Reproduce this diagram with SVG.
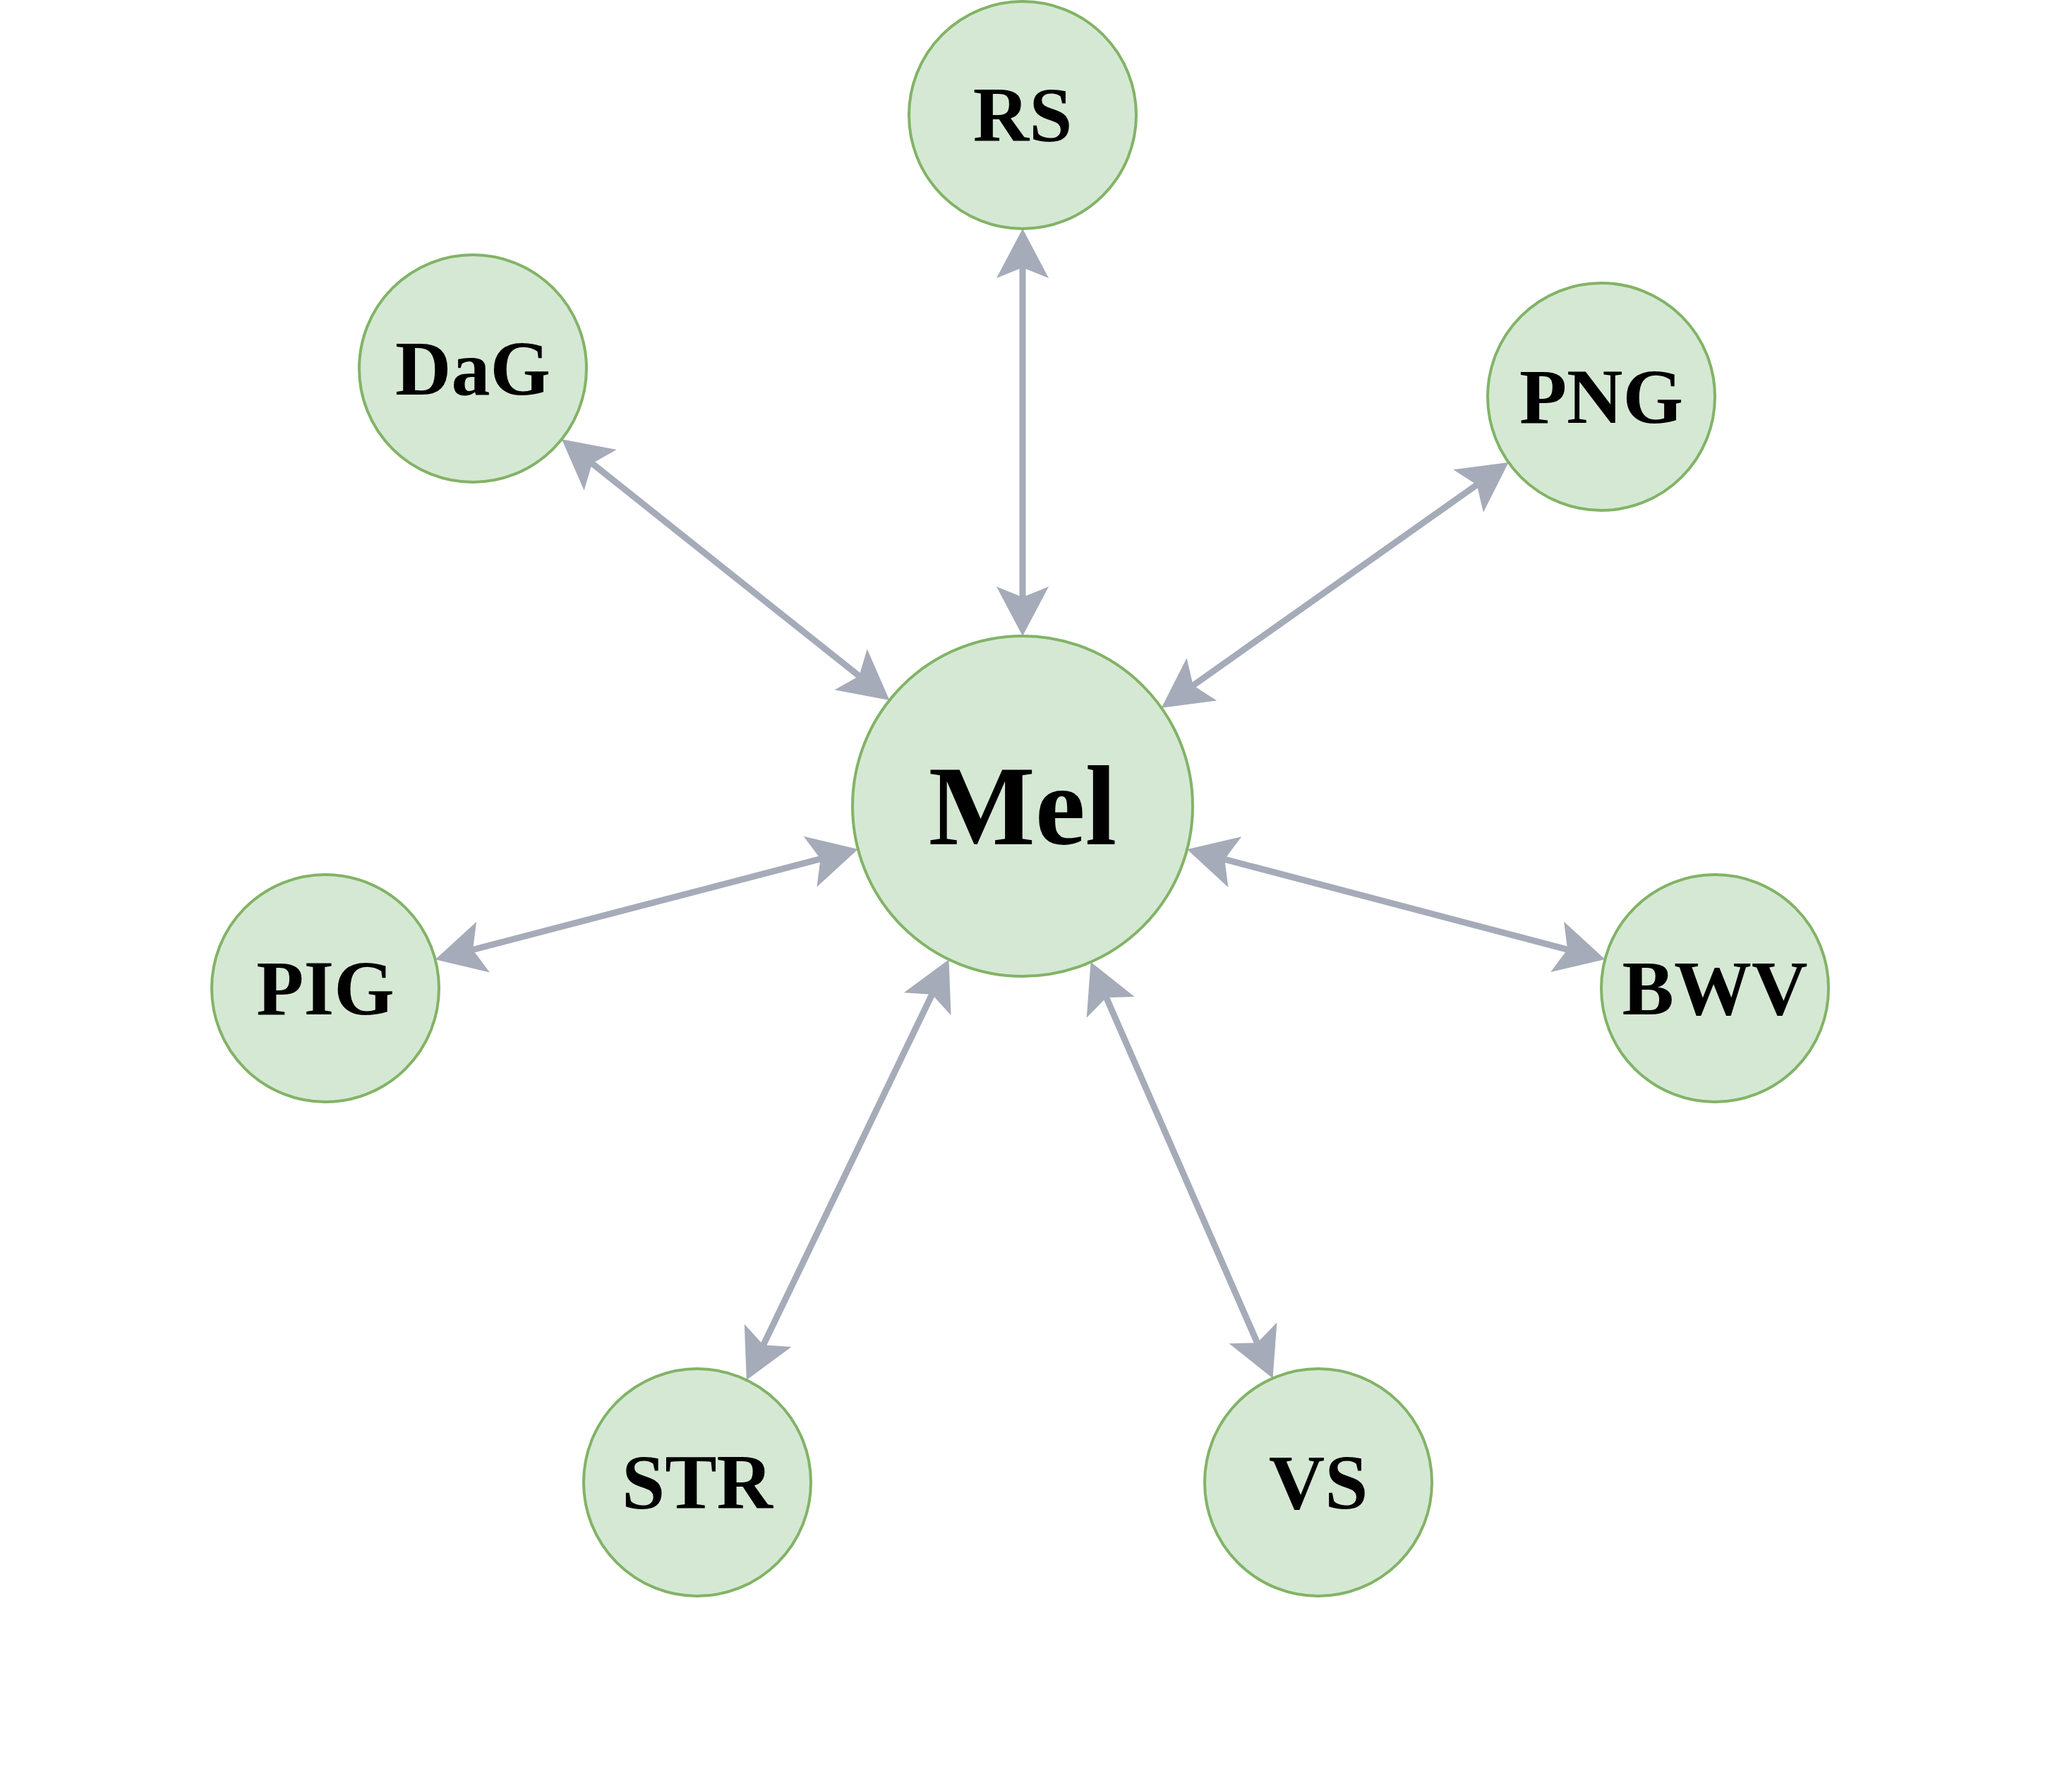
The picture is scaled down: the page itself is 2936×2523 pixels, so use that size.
<svg xmlns="http://www.w3.org/2000/svg" width="2936" height="2523" viewBox="0 0 2936 2523">
<style>
.n{fill:#d5e8d4;stroke:#82b366;stroke-width:4}
.t{font-family:"Liberation Serif",serif;font-weight:bold;font-size:110px;fill:#000;text-anchor:middle;dominant-baseline:central}
.e{stroke:#a5abb8;stroke-width:9;fill:none;marker-start:url(#a);marker-end:url(#a)}
</style>
<defs>
<marker id="a" markerUnits="userSpaceOnUse" viewBox="-60 -40 80 80" markerWidth="80" markerHeight="80" refX="0" refY="0" orient="auto-start-reverse" overflow="visible">
<path d="M15,0 L-55,-37 L-40,0 L-55,37 Z" fill="#a5abb8"/>
</marker>
</defs>
<rect width="2936" height="2523" fill="#fff"/>
<g id="edges">
<line class="e" x1="1449" y1="886" x2="1449" y2="339"/>
<line class="e" x1="1248.7" y1="982.6" x2="807.7" y2="631.6"/>
<line class="e" x1="1658" y1="994.1" x2="2125.4" y2="663.7"/>
<line class="e" x1="1201.3" y1="1206.7" x2="631.3" y2="1355.5"/>
<line class="e" x1="1696.6" y1="1207.1" x2="2259.8" y2="1355.3"/>
<line class="e" x1="1338" y1="1372.7" x2="1064.3" y2="1941.4"/>
<line class="e" x1="1551.6" y1="1376.5" x2="1797.5" y2="1938.8"/>
</g>
<g id="Mel"><circle class="n" cx="1449" cy="1142" r="241"/><text class="t" x="1449" y="1142" style="font-size:160px">Mel</text></g>
<g id="RS"><circle class="n" cx="1449" cy="163" r="161"/><text class="t" x="1449" y="163">RS</text></g>
<g id="DaG"><circle class="n" cx="670" cy="522" r="161"/><text class="t" x="670" y="522">DaG</text></g>
<g id="PNG"><circle class="n" cx="2269" cy="562" r="161"/><text class="t" x="2269" y="562">PNG</text></g>
<g id="PIG"><circle class="n" cx="461" cy="1400" r="161"/><text class="t" x="461" y="1400">PIG</text></g>
<g id="BWV"><circle class="n" cx="2430" cy="1400" r="161"/><text class="t" x="2430" y="1400">BWV</text></g>
<g id="STR"><circle class="n" cx="988" cy="2100" r="161"/><text class="t" x="988" y="2100">STR</text></g>
<g id="VS"><circle class="n" cx="1868" cy="2100" r="161"/><text class="t" x="1868" y="2100">VS</text></g>
</svg>
